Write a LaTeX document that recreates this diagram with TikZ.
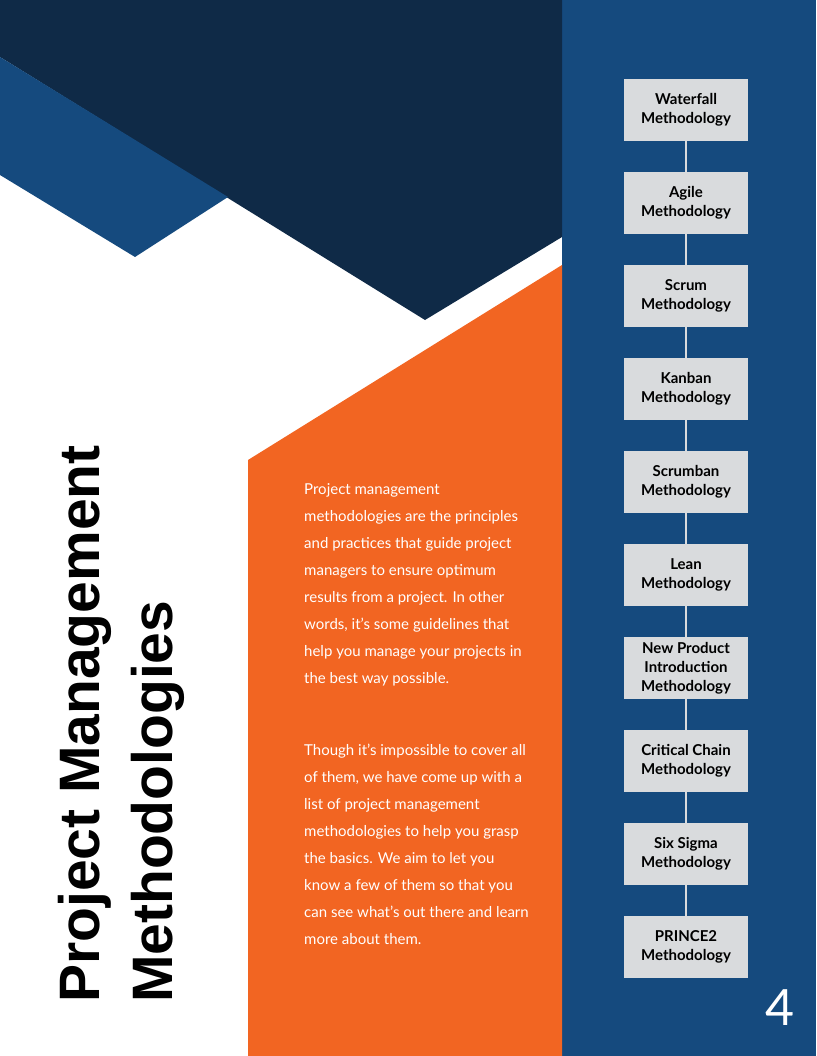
\documentclass[tikz,border=0pt]{standalone}
\usepackage{fontspec}
\setmainfont{Lato}
\newfontfamily\titlefont{Liberation Sans}
\definecolor{navy}{HTML}{0F2A47}
\definecolor{pblue}{HTML}{154A7E}
\definecolor{porange}{HTML}{F26522}
\definecolor{boxgray}{HTML}{D9DBDD}
\tikzset{
  mbox/.style={fill=boxgray, minimum width=124pt, minimum height=62pt, inner sep=0pt, align=center, font=\fontsize{15}{19}\selectfont\bfseries, text=black},
  link/.style={draw=boxgray, line width=1.2pt}
}
\begin{document}
\begin{tikzpicture}[x=1pt,y=-1pt]
\useasboundingbox (0,0) rectangle (816,1056);
\fill[white] (0,0) rectangle (816,1056);
\fill[pblue] (562,0) rectangle (816,1056);
\fill[navy] (0,0) -- (562,0) -- (562,237) -- (425,320) -- (0,57) -- cycle;
\fill[pblue] (0,57) -- (228,197) -- (135,257) -- (0,175) -- cycle;
\fill[porange] (248,460) -- (562,265) -- (562,1056) -- (248,1056) -- cycle;
\node[anchor=south west, rotate=90, inner sep=0pt, font=\titlefont\fontsize{57}{72}\selectfont\bfseries] (t1) at (112,1003) {Project Management};
\node[anchor=south west, rotate=90, inner sep=0pt, font=\titlefont\fontsize{57}{72}\selectfont\bfseries] (t2) at (185,1003) {Methodologies};
\node[anchor=north west, inner sep=0pt, align=left, text=white, font=\fontsize{15}{27}\selectfont] (p1) at (304,483) {Project management\\methodologies are the principles\\and practices that guide project\\managers to ensure optimum\\results from a project. In other\\words, it's some guidelines that\\help you manage your projects in\\the best way possible.};
\node[anchor=north west, inner sep=0pt, align=left, text=white, font=\fontsize{15}{27}\selectfont] (p2) at (304,744) {Though it's impossible to cover all\\of them, we have come up with a\\list of project management\\methodologies to help you grasp\\the basics. We aim to let you\\know a few of them so that you\\can see what's out there and learn\\more about them.};
\node[mbox] (b1) at (686,110) {Waterfall\\Methodology};
\node[mbox] (b2) at (686,203) {Agile\\Methodology};
\node[mbox] (b3) at (686,296) {Scrum\\Methodology};
\node[mbox] (b4) at (686,389) {Kanban\\Methodology};
\node[mbox] (b5) at (686,482) {Scrumban\\Methodology};
\node[mbox] (b6) at (686,575) {Lean\\Methodology};
\node[mbox] (b7) at (686,668) {New Product\\Introduction\\Methodology};
\node[mbox] (b8) at (686,761) {Critical Chain\\Methodology};
\node[mbox] (b9) at (686,854) {Six Sigma\\Methodology};
\node[mbox] (b10) at (686,947) {PRINCE2\\Methodology};
\foreach \a/\b in {b1/b2,b2/b3,b3/b4,b4/b5,b5/b6,b6/b7,b7/b8,b8/b9,b9/b10}
  \draw[link] (\a.south) -- (\b.north);
\node[text=white, font=\fontsize{50}{50}\selectfont, inner sep=0pt] (pg) at (780,1008) {4};
\end{tikzpicture}
\end{document}
